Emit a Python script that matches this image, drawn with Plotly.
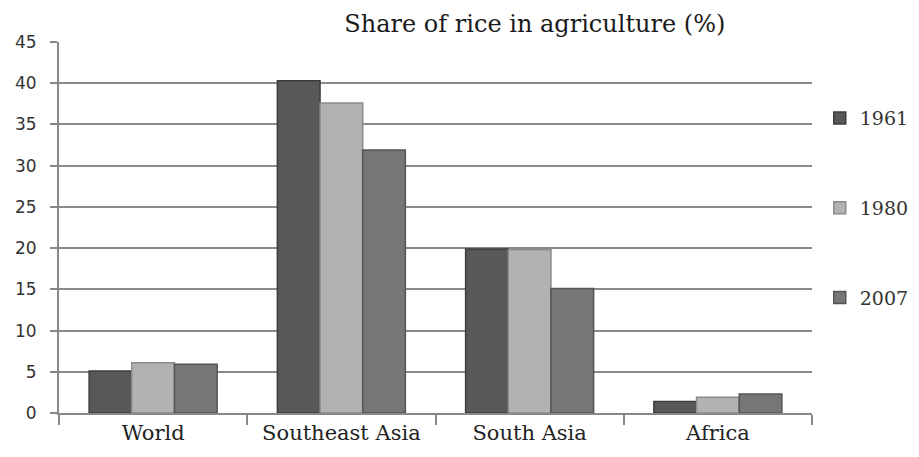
import plotly.graph_objects as go

categories = ["World", "Southeast Asia", "South Asia", "Africa"]
years = ["1961", "1980", "2007"]
v1961 = [5.1, 40.3, 19.9, 1.4]
v1980 = [6.1, 37.6, 19.8, 1.9]
v2007 = [5.9, 31.9, 15.1, 2.3]
y_ticks = [0, 5, 10, 15, 20, 25, 30, 35, 40, 45]

series = [v1961, v1980, v2007]
colors = ["#585858", "#b2b2b2", "#767676"]
edges = ["#3c3c3c", "#8c8c8c", "#545454"]

fig = go.Figure()
for i, (name, vals) in enumerate(zip(years, series)):
    fig.add_trace(go.Bar(
        x=categories, y=vals, name=name,
        marker=dict(color=colors[i], line=dict(color=edges[i], width=1.5)),
        legendgroup=name,
    ))

fig.update_layout(
    width=919, height=457,
    margin=dict(l=59, r=107, t=42, b=44, autoexpand=False),
    paper_bgcolor="white", plot_bgcolor="white",
    barmode="group", bargap=0.32, bargroupgap=0,
    title=dict(text="Share of rice in agriculture (%)", x=0.582, xanchor="center",
               y=0.948, yanchor="middle",
               font=dict(family="DejaVu Serif", size=24, color="#1a1a1a")),
    legend=dict(xref="container", yref="container", x=0.892, xanchor="left",
                y=0.783, yanchor="top",
                font=dict(family="DejaVu Serif", size=19, color="#333"),
                traceorder="grouped", tracegroupgap=62,
                itemwidth=30, bgcolor="rgba(0,0,0,0)"),
    showlegend=True,
)
fig.update_xaxes(
    type="category", tickson="boundaries", ticks="outside", ticklen=10,
    tickcolor="#888", tickwidth=1.5,
    showline=True, linecolor="#888", linewidth=2,
    showgrid=False,
    tickfont=dict(family="DejaVu Serif", size=21, color="#222"),
)
fig.update_yaxes(
    range=[0, 45], tickvals=y_ticks, ticks="outside", ticklen=7,
    tickcolor="#888", tickwidth=1.5,
    showline=True, linecolor="#888", linewidth=2,
    showgrid=True, gridcolor="#8a8a8a", gridwidth=1.5,
    zeroline=False, ticklabelstandoff=10,
    tickfont=dict(family="DejaVu Sans", size=17, color="#333"),
)

fig.write_html("out.html")
